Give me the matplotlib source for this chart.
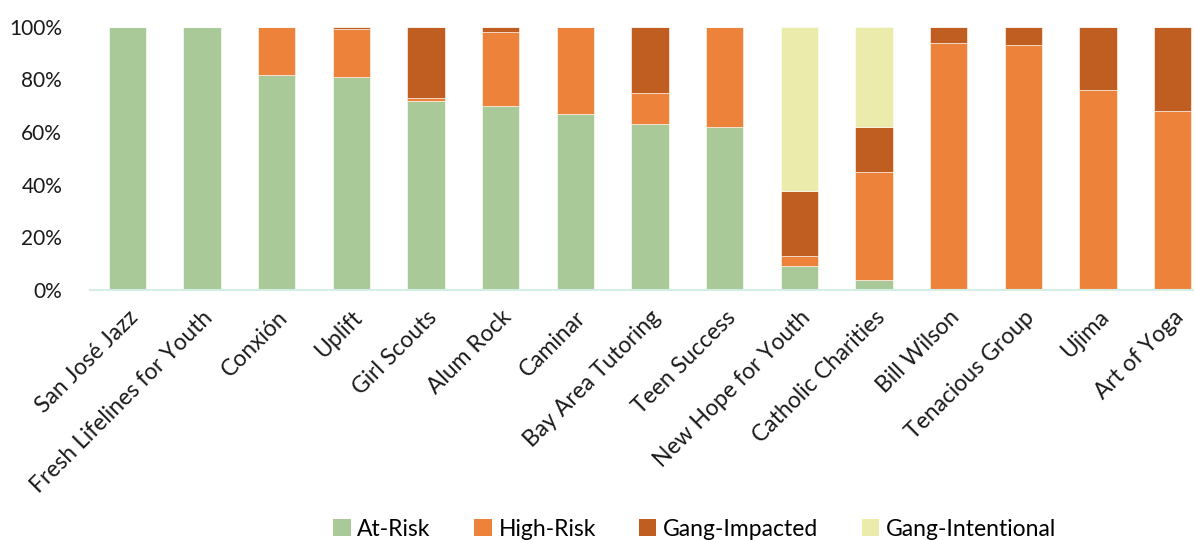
import numpy as np
import matplotlib
matplotlib.use('Agg')
import matplotlib.pyplot as plt
from matplotlib.patches import Patch
from matplotlib.ticker import PercentFormatter

# shares per program (fractions)
programs = ['San José Jazz', 'Fresh Lifelines for Youth', 'Conxión', 'Uplift', 'Girl Scouts',
            'Alum Rock', 'Caminar', 'Bay Area Tutoring', 'Teen Success', 'New Hope for Youth',
            'Catholic Charities', 'Bill Wilson', 'Tenacious Group', 'Ujima', 'Art of Yoga']
at_risk = [1.00, 1.00, 0.815, 0.810, 0.717, 0.700, 0.668, 0.632, 0.618, 0.091, 0.038, 0.0, 0.0, 0.0, 0.0]
high_risk = [0.0, 0.0, 0.185, 0.180, 0.011, 0.280, 0.332, 0.115, 0.382, 0.039, 0.410, 0.937, 0.930, 0.759, 0.679]
gang_impacted = [0.0, 0.0, 0.0, 0.010, 0.272, 0.020, 0.0, 0.253, 0.0, 0.247, 0.170, 0.063, 0.070, 0.241, 0.321]
gang_intentional = [0.0, 0.0, 0.0, 0.0, 0.0, 0.0, 0.0, 0.0, 0.0, 0.623, 0.382, 0.0, 0.0, 0.0, 0.0]

series = ['At-Risk', 'High-Risk', 'Gang-Impacted', 'Gang-Intentional']
colors = ['#a9c998', '#ed833a', '#c05e22', '#ebebab']

plt.rcParams['font.family'] = ['Lato', 'DejaVu Sans']

fig = plt.figure(figsize=(11.94, 5.4), dpi=100)
ax = fig.add_axes([90 / 1194, 250 / 540, 1120 / 1194, 263.3 / 540])

x = np.arange(len(programs))
bottom = np.zeros(len(programs))
for vals, col in zip([at_risk, high_risk, gang_impacted, gang_intentional], colors):
    vals = np.array(vals)
    ax.bar(x, vals, width=0.5, bottom=bottom, color=col, edgecolor='white', linewidth=0.4)
    bottom += vals

ax.set_xlim(-0.5, len(programs) - 0.5)
ax.set_ylim(0, 1)
ax.yaxis.set_major_formatter(PercentFormatter(1.0, decimals=0))
ax.set_yticks(np.arange(0, 1.01, 0.2))
ax.tick_params(axis='y', length=0, pad=20, labelsize=15, labelcolor='#1a1a1a')
ax.tick_params(axis='x', length=0, pad=12, labelsize=16.5, labelcolor='#1a1a1a')
ax.set_xticks(x)
ax.set_xticklabels(programs, rotation=45, ha='right', rotation_mode='anchor')

for s in ['top', 'right', 'left']:
    ax.spines[s].set_visible(False)
ax.spines['bottom'].set_color('#d2eee5')
ax.spines['bottom'].set_linewidth(1.5)

handles = [Patch(facecolor=c, edgecolor='none') for c in colors]
fig.legend(handles, series, loc='center', bbox_to_anchor=(0.582, 0.02), ncol=4,
           frameon=False, fontsize=16.5, handlelength=0.75, handleheight=0.75,
           handletextpad=0.3, columnspacing=1.9)

fig.savefig('out.png', dpi=100)
